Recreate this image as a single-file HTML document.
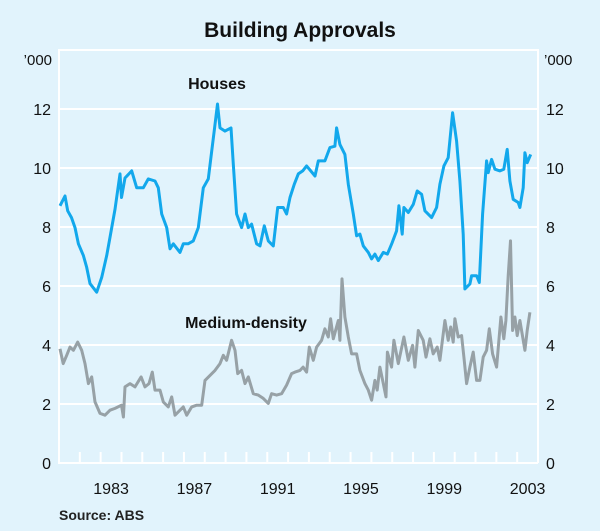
<!DOCTYPE html>
<html><head><meta charset="utf-8"><style>
body{margin:0;background:#e1f3fc;}
svg{display:block;font-family:"Liberation Sans",Arial,sans-serif;}
</style></head><body>
<svg width="600" height="531" viewBox="0 0 600 531">
<rect x="0" y="0" width="600" height="531" fill="#e1f3fc"/>
<text x="300" y="37" text-anchor="middle" font-size="21" font-weight="bold" fill="#111">Building Approvals</text>
<text x="52" y="65" text-anchor="end" font-size="15" fill="#111">’000</text>
<text x="544" y="65" font-size="15" fill="#111">’000</text>
<g id="grid"></g><g id="axes"></g><g id="series"></g>
<text x="217" y="89" text-anchor="middle" font-size="16" font-weight="bold" fill="#111">Houses</text>
<text x="246" y="328" text-anchor="middle" font-size="16" font-weight="bold" fill="#111">Medium-density</text>
<text x="59" y="520" font-size="14" font-weight="bold" fill="#222">Source: ABS</text>
</svg>
<script>
const yTicks=[0,2,4,6,8,10,12];
const xLabels=[1983,1987,1991,1995,1999,2003];
const houseDates=[1981.05,1981.29,1981.42,1981.6,1981.77,1981.93,1982.17,1982.33,1982.49,1982.81,1983.05,1983.29,1983.45,1983.69,1983.93,1984.0,1984.17,1984.49,1984.73,1985.05,1985.29,1985.61,1985.77,1985.93,1986.17,1986.33,1986.49,1986.81,1986.97,1987.2,1987.45,1987.69,1987.93,1988.17,1988.33,1988.45,1988.61,1988.73,1988.97,1989.26,1989.37,1989.53,1989.77,1989.93,1990.09,1990.25,1990.49,1990.65,1990.86,1991.05,1991.29,1991.5,1991.77,1991.93,1992.09,1992.3,1992.49,1992.7,1992.89,1993.29,1993.45,1993.77,1994.01,1994.25,1994.33,1994.49,1994.73,1994.89,1995.13,1995.29,1995.45,1995.61,1995.85,1996.01,1996.17,1996.33,1996.57,1996.77,1996.97,1997.21,1997.32,1997.48,1997.56,1997.77,1998.01,1998.2,1998.41,1998.57,1998.89,1999.13,1999.29,1999.48,1999.69,1999.9,2000.09,2000.25,2000.41,2000.49,2000.73,2000.81,2001.05,2001.18,2001.34,2001.53,2001.61,2001.77,2001.93,2002.17,2002.36,2002.52,2002.65,2002.81,2003.05,2003.13,2003.29,2003.37,2003.48,2003.65];
const houseValues=[8.72,9.05,8.55,8.32,7.98,7.43,7.03,6.63,6.08,5.79,6.29,7.03,7.65,8.6,9.8,9.0,9.66,9.9,9.33,9.33,9.63,9.56,9.33,8.44,7.98,7.26,7.43,7.14,7.43,7.43,7.53,7.98,9.33,9.63,10.57,11.25,12.17,11.36,11.25,11.36,10.13,8.44,7.98,8.44,7.98,8.1,7.43,7.36,8.04,7.53,7.36,8.66,8.66,8.44,9.0,9.45,9.8,9.9,10.07,9.73,10.24,10.24,10.69,10.74,11.36,10.8,10.46,9.45,8.44,7.7,7.76,7.36,7.14,6.92,7.08,6.86,7.14,7.08,7.42,7.87,8.72,7.76,8.66,8.49,8.77,9.22,9.11,8.55,8.32,8.66,9.45,10.07,10.35,11.87,10.91,9.56,7.76,5.9,6.07,6.35,6.35,6.12,8.44,10.24,9.84,10.29,9.96,9.9,9.96,10.63,9.56,8.94,8.83,8.66,9.33,10.52,10.18,10.46];
const mdDates=[1981.05,1981.2,1981.37,1981.53,1981.69,1981.9,1982.09,1982.25,1982.41,1982.57,1982.73,1982.97,1983.21,1983.45,1983.69,1984.0,1984.09,1984.17,1984.41,1984.65,1984.94,1985.13,1985.32,1985.48,1985.61,1985.85,1986.01,1986.25,1986.41,1986.57,1986.81,1986.97,1987.13,1987.37,1987.61,1987.85,1988.01,1988.25,1988.49,1988.73,1988.89,1989.05,1989.29,1989.45,1989.58,1989.77,1989.93,1990.09,1990.33,1990.57,1990.81,1991.05,1991.21,1991.45,1991.69,1991.93,1992.17,1992.33,1992.57,1992.72,1992.89,1993.02,1993.21,1993.37,1993.61,1993.77,1993.93,1994.04,1994.17,1994.41,1994.49,1994.59,1994.73,1994.89,1995.05,1995.29,1995.45,1995.69,1995.85,1996.01,1996.17,1996.28,1996.41,1996.57,1996.7,1996.77,1996.97,1997.08,1997.29,1997.56,1997.77,1997.98,1998.09,1998.25,1998.49,1998.62,1998.81,1998.97,1999.16,1999.29,1999.53,1999.69,1999.81,1999.93,2000.01,2000.17,2000.33,2000.44,2000.57,2000.73,2000.89,2001.05,2001.21,2001.37,2001.53,2001.66,2001.82,2002.01,2002.22,2002.36,2002.46,2002.57,2002.68,2002.78,2002.89,2003.0,2003.13,2003.37,2003.48,2003.61];
const mdValues=[3.87,3.37,3.65,3.93,3.82,4.1,3.82,3.37,2.69,2.92,2.07,1.68,1.62,1.79,1.85,1.96,1.56,2.58,2.69,2.58,2.92,2.58,2.69,3.08,2.47,2.47,2.07,1.9,2.24,1.62,1.79,1.9,1.62,1.9,1.96,1.96,2.8,2.97,3.14,3.37,3.65,3.48,4.16,3.82,3.03,3.14,2.69,2.92,2.35,2.3,2.19,2.02,2.35,2.3,2.35,2.64,3.03,3.08,3.14,3.25,3.08,3.93,3.48,3.93,4.16,4.55,4.27,4.89,4.21,4.83,4.16,6.24,4.95,4.27,3.7,3.7,3.14,2.69,2.47,2.13,2.8,2.47,3.25,2.69,2.24,3.76,3.25,4.16,3.37,4.27,3.48,3.99,3.25,4.49,4.16,3.59,4.21,3.7,3.93,3.48,4.83,4.16,4.61,4.1,4.89,4.27,4.32,3.59,2.69,3.25,3.76,2.8,2.8,3.59,3.82,4.55,3.7,3.25,4.95,4.21,4.83,6.35,7.53,4.49,4.95,4.32,4.83,3.82,4.49,5.11];

const L=59,R=538,T=50,B=463,X0=1981,X1=2004,YMAX=14;
const xs=t=>L+(t-X0)*(R-L)/(X1-X0);
const ys=v=>B-v*(B-T)/YMAX;
const NS='http://www.w3.org/2000/svg';
function mk(tag,attrs,parent){const e=document.createElementNS(NS,tag);for(const k in attrs)e.setAttribute(k,attrs[k]);parent.appendChild(e);return e;}
const grid=document.getElementById('grid'),axes=document.getElementById('axes'),series=document.getElementById('series');
yTicks.forEach(v=>{
  if(v>0){const g=mk('line',{x1:L,x2:R,y1:ys(v),y2:ys(v),stroke:'#fff','stroke-width':2},grid);
  
  }
  const a=mk('text',{x:51,y:ys(v)+6,'text-anchor':'end','font-size':16,fill:'#111'},axes);a.textContent=v;
  
  
  const b=mk('text',{x:546,y:ys(v)+6,'font-size':16,fill:'#111'},axes);b.textContent=v;
  
  
});
const frame=mk('path',{d:`M${R},${B}H${L}V${T}H${R}V${B}`,fill:'none',stroke:'#fff','stroke-width':2},axes);


for(let y=X0+1;y<X1;y++){
  const t=mk('line',{x1:xs(y),x2:xs(y),y1:B,y2:B-11,stroke:'#fff','stroke-width':2},axes);
  
  
}
xLabels.forEach(y=>{
  const t=mk('text',{x:xs(y+0.5),y:494,'text-anchor':'middle','font-size':16,fill:'#111'},axes);t.textContent=y;
  
  
});
function line(dates,vals,color,name){
  const d=dates.map((t,i)=>(i?'L':'M')+xs(t).toFixed(1)+','+ys(vals[i]).toFixed(1)).join('');
  const p=mk('path',{d,fill:'none',stroke:color,'stroke-width':3,'stroke-linejoin':'round'},series);
  
  
}
line(mdDates,mdValues,'#97a1a6','medium-density-line');
line(houseDates,houseValues,'#12a8ec','houses-line');
</script>
</body></html>
